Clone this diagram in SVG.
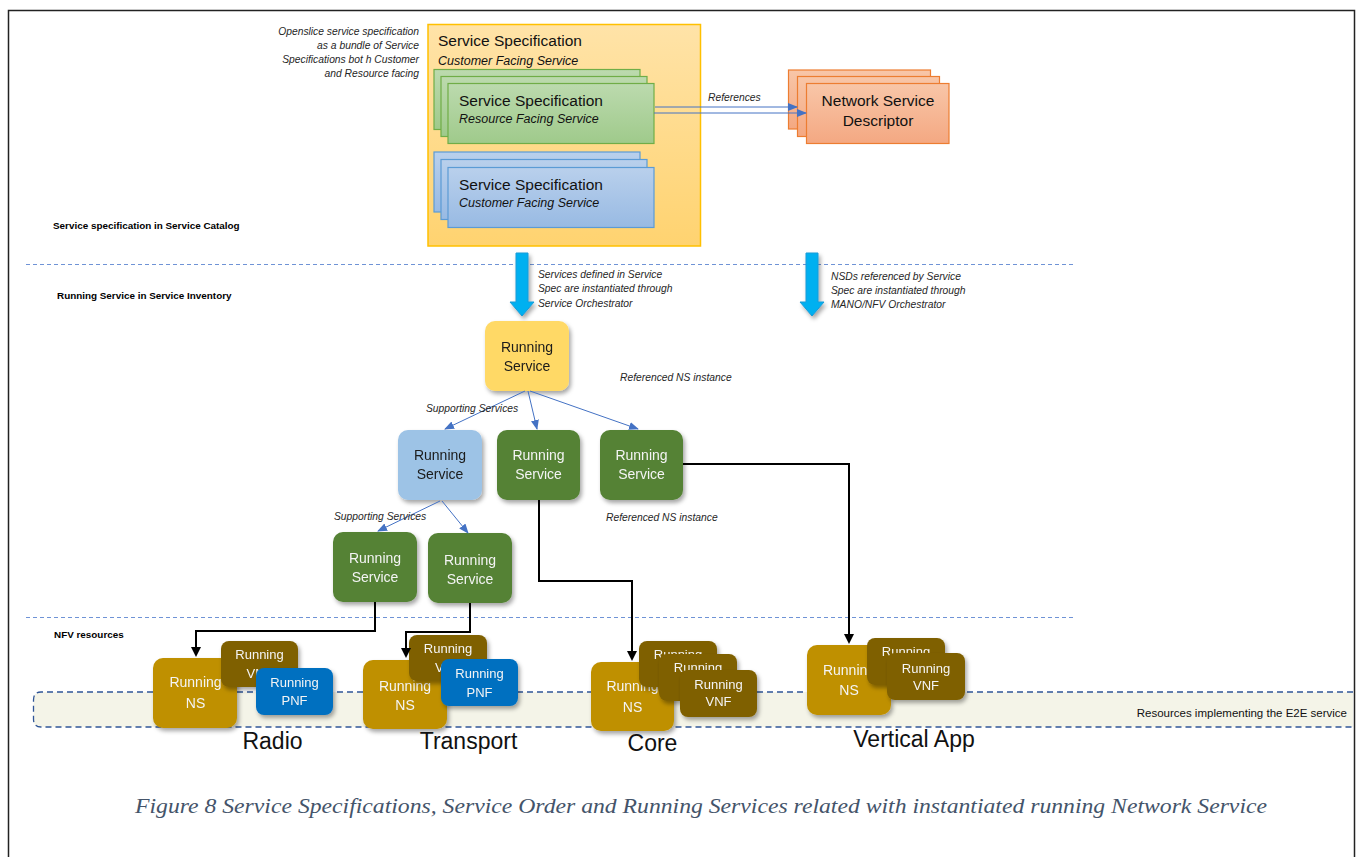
<svg xmlns="http://www.w3.org/2000/svg" width="1357" height="857" viewBox="0 0 1357 857">
<defs>
<style>
.sans { font-family: "Liberation Sans", Arial, sans-serif; }
.it { font-family: "Liberation Sans", Arial, sans-serif; font-style: italic; font-size: 10.3px; fill: #262626; }
.lbl { font-family: "Liberation Sans", Arial, sans-serif; font-weight: bold; font-size: 9.9px; fill: #000; }
.t15 { font-family: "Liberation Sans", Arial, sans-serif; font-size: 15.5px; fill: #111; }
.i12 { font-family: "Liberation Sans", Arial, sans-serif; font-style: italic; font-size: 12.5px; fill: #111; }
.rs { font-family: "Liberation Sans", Arial, sans-serif; font-size: 14px; text-anchor: middle; }
.rs13 { font-family: "Liberation Sans", Arial, sans-serif; font-size: 13px; text-anchor: middle; fill: #f4f4f4; }
.dk { fill: #1a1a1a; }
.wh { fill: #f4f4f4; }
.area { font-family: "Liberation Sans", Arial, sans-serif; font-size: 23px; text-anchor: middle; fill: #111; }
.cap { font-family: "Liberation Serif", "Times New Roman", serif; font-style: italic; font-size: 21px; fill: #44546A; }
.sep { stroke: #6F93D6; stroke-width: 1; stroke-dasharray: 4 3; fill: none; }
.blue { stroke: #4472C4; stroke-width: 1; fill: none; }
.blk { stroke: #000; stroke-width: 2; fill: none; }
.gcard { fill: url(#gGreen); stroke: #70AD47; stroke-width: 1.2; }
.bcard { fill: url(#gBlue); stroke: #5B9BD5; stroke-width: 1.2; }
.ocard { fill: url(#gOrange); stroke: #ED7D31; stroke-width: 1.2; }
.ns { fill: #BF9000; }
.vnf { fill: #7F6000; }
.pnf { fill: #0070C0; }
.rg { fill: #548235; }
.bigarrow { fill: #00B0F0; stroke: #1A9BD7; stroke-width: 1; }
</style>
<linearGradient id="gYellow" x1="0" y1="0" x2="0" y2="1">
<stop offset="0" stop-color="#FFE3A8"/><stop offset="1" stop-color="#FFD370"/>
</linearGradient>
<linearGradient id="gGreen" x1="0" y1="0" x2="0" y2="1">
<stop offset="0" stop-color="#BCDAAE"/><stop offset="1" stop-color="#9FCA8B"/>
</linearGradient>
<linearGradient id="gBlue" x1="0" y1="0" x2="0" y2="1">
<stop offset="0" stop-color="#B9D0EC"/><stop offset="1" stop-color="#98BAE3"/>
</linearGradient>
<linearGradient id="gOrange" x1="0" y1="0" x2="0" y2="1">
<stop offset="0" stop-color="#F8C6A8"/><stop offset="1" stop-color="#F4A882"/>
</linearGradient>
<filter id="sh" x="-20%" y="-20%" width="150%" height="150%">
<feDropShadow dx="2" dy="3" stdDeviation="2" flood-color="#000" flood-opacity="0.35"/>
</filter>
<marker id="mBlue" markerUnits="userSpaceOnUse" markerWidth="10" markerHeight="8" refX="9" refY="4" orient="auto">
<path d="M0,0 L10,4 L0,8 z" fill="#4472C4"/>
</marker>
<marker id="mBlk" markerUnits="userSpaceOnUse" markerWidth="10" markerHeight="10" refX="6" refY="5" orient="auto">
<path d="M0,0 L10,5 L0,10 z" fill="#000"/>
</marker>
</defs>

<rect x="0" y="0" width="1357" height="857" fill="#fff"/>
<rect x="8.5" y="10.5" width="1346" height="900" fill="none" stroke="#222" stroke-width="1.5"/>

<!-- E2E band -->
<g id="e2e-band">
<path d="M1353,692 H41 Q33.5,692 33.5,700 V719 Q33.5,727 41,727 H1353 Z" fill="#F4F4E8"/>
<path d="M1353,692 H41 Q33.5,692 33.5,700 V719 Q33.5,727 41,727 H1353" fill="none" stroke="#2F5597" stroke-width="1.3" stroke-dasharray="6 4"/>
<text class="sans" x="1347" y="717" text-anchor="end" font-size="11.5" fill="#111">Resources implementing the E2E service</text>
</g>

<!-- separators -->
<line class="sep" x1="26" y1="264.5" x2="1075" y2="264.5"/>
<line class="sep" x1="26" y1="617.5" x2="1075" y2="617.5"/>

<!-- section labels -->
<text class="lbl" x="53" y="229">Service specification in Service Catalog</text>
<text class="lbl" x="57" y="299">Running Service in Service Inventory</text>
<text class="lbl" x="54" y="638">NFV resources</text>

<!-- annotation -->
<g class="it" text-anchor="end">
<text x="419" y="35">Openslice service specification</text>
<text x="419" y="49">as a bundle of Service</text>
<text x="419" y="63">Specifications bot h Customer</text>
<text x="419" y="77">and Resource facing</text>
</g>

<g id="spec-bundle">
<rect x="428" y="24.5" width="272.5" height="221.5" fill="url(#gYellow)" stroke="#FFC000" stroke-width="1.5"/>
<text class="t15" x="438" y="46">Service Specification</text>
<text class="i12" x="438" y="65">Customer Facing Service</text>
</g>

<g id="spec-rfs">
<rect class="gcard" x="434" y="69.5" width="206" height="60"/>
<rect class="gcard" x="441" y="76.5" width="206" height="60"/>
<rect class="gcard" x="448" y="83.5" width="206" height="60"/>
<text class="t15" x="459" y="106">Service Specification</text>
<text class="i12" x="459" y="123">Resource Facing Service</text>
</g>

<g id="spec-cfs">
<rect class="bcard" x="434" y="152" width="206" height="60"/>
<rect class="bcard" x="441" y="159.5" width="206" height="60"/>
<rect class="bcard" x="448" y="167.5" width="206" height="60"/>
<text class="t15" x="459" y="190">Service Specification</text>
<text class="i12" x="459" y="207">Customer Facing Service</text>
</g>

<g id="nsd">
<rect class="ocard" x="788.5" y="70" width="142" height="59"/>
<rect class="ocard" x="797.5" y="76.5" width="142" height="60"/>
<rect class="ocard" x="806.5" y="83.5" width="142.5" height="60"/>
<text class="t15" x="878" y="106" text-anchor="middle">Network Service</text>
<text class="t15" x="878" y="126" text-anchor="middle">Descriptor</text>
</g>

<!-- big instantiation arrows -->
<g id="instantiate-arrows" filter="url(#sh)">
<polygon class="bigarrow" points="516,253 528,253 528,302 534,302 522,316 510,302 516,302"/>
<polygon class="bigarrow" points="806,253 818,253 818,302 824,302 812,316 800,302 806,302"/>
</g>
<g class="it">
<text x="538" y="278">Services defined in Service</text>
<text x="538" y="292">Spec are instantiated through</text>
<text x="538" y="307">Service Orchestrator</text>
<text x="831" y="280">NSDs referenced by Service</text>
<text x="831" y="294">Spec are instantiated through</text>
<text x="831" y="308">MANO/NFV Orchestrator</text>
</g>

<!-- running services -->
<g id="rs-top" filter="url(#sh)">
<rect x="485" y="321" width="84" height="70" rx="10" fill="#FFD966"/>
<text class="rs dk" x="527" y="352">Running</text>
<text class="rs dk" x="527" y="371">Service</text>
</g>
<g id="rs-blue" filter="url(#sh)">
<rect x="398" y="430" width="84" height="70" rx="10" fill="#9DC3E6"/>
<text class="rs dk" x="440" y="460">Running</text>
<text class="rs dk" x="440" y="479">Service</text>
</g>
<g id="rs-green-mid" filter="url(#sh)">
<rect class="rg" x="497" y="430" width="83" height="70" rx="10"/>
<text class="rs wh" x="538.5" y="460">Running</text>
<text class="rs wh" x="538.5" y="479">Service</text>
</g>
<g id="rs-green-right" filter="url(#sh)">
<rect class="rg" x="600" y="430" width="83" height="70" rx="10"/>
<text class="rs wh" x="641.5" y="460">Running</text>
<text class="rs wh" x="641.5" y="479">Service</text>
</g>
<g id="rs-radio" filter="url(#sh)">
<rect class="rg" x="333" y="532" width="84" height="70" rx="10"/>
<text class="rs wh" x="375" y="563">Running</text>
<text class="rs wh" x="375" y="582">Service</text>
</g>
<g id="rs-transport" filter="url(#sh)">
<rect class="rg" x="428" y="533" width="84" height="70" rx="10"/>
<text class="rs wh" x="470" y="565">Running</text>
<text class="rs wh" x="470" y="584">Service</text>
</g>

<!-- NFV resources: Radio -->
<g id="radio-ns" filter="url(#sh)">
<rect class="ns" x="153" y="658" width="84" height="70" rx="10"/>
<text class="rs wh" x="195.5" y="687">Running</text>
<text class="rs wh" x="195.5" y="708">NS</text>
</g>
<g id="radio-vnf" filter="url(#sh)">
<rect class="vnf" x="221" y="641" width="77" height="46" rx="8"/>
<text class="rs13" x="259.5" y="659">Running</text>
<text class="rs13" x="259.5" y="678">VNF</text>
</g>
<g id="radio-pnf" filter="url(#sh)">
<rect class="pnf" x="256" y="668" width="77" height="47" rx="8"/>
<text class="rs13" x="294.5" y="687">Running</text>
<text class="rs13" x="294.5" y="704.5">PNF</text>
</g>

<!-- Transport -->
<g id="transport-ns" filter="url(#sh)">
<rect class="ns" x="363" y="660" width="84" height="69" rx="10"/>
<text class="rs wh" x="405" y="691">Running</text>
<text class="rs wh" x="405" y="709.5">NS</text>
</g>
<g id="transport-vnf" filter="url(#sh)">
<rect class="vnf" x="409" y="635" width="78" height="46" rx="8"/>
<text class="rs13" x="448" y="653">Running</text>
<text class="rs13" x="448" y="672">VNF</text>
</g>
<g id="transport-pnf" filter="url(#sh)">
<rect class="pnf" x="441" y="659" width="77" height="47" rx="8"/>
<text class="rs13" x="479.5" y="678">Running</text>
<text class="rs13" x="479.5" y="697">PNF</text>
</g>

<!-- Core -->
<g id="core-ns" filter="url(#sh)">
<rect class="ns" x="591" y="662" width="83" height="69" rx="10"/>
<text class="rs wh" x="632.5" y="691">Running</text>
<text class="rs wh" x="632.5" y="712">NS</text>
</g>
<g id="core-vnf1" filter="url(#sh)">
<rect class="vnf" x="639" y="641" width="78" height="46" rx="8"/>
<text class="rs13" x="678" y="659">Running</text>
<text class="rs13" x="678" y="678">VNF</text>
</g>
<g id="core-vnf2" filter="url(#sh)">
<rect class="vnf" x="659" y="654" width="78" height="47" rx="8"/>
<text class="rs13" x="698" y="672">Running</text>
<text class="rs13" x="698" y="691">VNF</text>
</g>
<g id="core-vnf3" filter="url(#sh)">
<rect class="vnf" x="680" y="670" width="77" height="47" rx="8"/>
<text class="rs13" x="718.5" y="689">Running</text>
<text class="rs13" x="718.5" y="706">VNF</text>
</g>

<!-- Vertical App -->
<g id="vertical-ns" filter="url(#sh)">
<rect class="ns" x="807" y="645" width="84" height="70" rx="10"/>
<text class="rs wh" x="849" y="675">Running</text>
<text class="rs wh" x="849" y="695">NS</text>
</g>
<g id="vertical-vnf1" filter="url(#sh)">
<rect class="vnf" x="867" y="638" width="78" height="47" rx="8"/>
<text class="rs13" x="906" y="656">Running</text>
<text class="rs13" x="906" y="675">VNF</text>
</g>
<g id="vertical-vnf2" filter="url(#sh)">
<rect class="vnf" x="887" y="653" width="78" height="47" rx="8"/>
<text class="rs13" x="926" y="673">Running</text>
<text class="rs13" x="926" y="690">VNF</text>
</g>

<!-- connectors -->
<g id="connectors">
<line class="blue" x1="655" y1="107" x2="797" y2="107" marker-end="url(#mBlue)"/>
<line class="blue" x1="654" y1="113" x2="806" y2="113" marker-end="url(#mBlue)"/>
<line class="blue" x1="525" y1="391" x2="445" y2="429" marker-end="url(#mBlue)"/>
<line class="blue" x1="528" y1="391" x2="537" y2="429" marker-end="url(#mBlue)"/>
<line class="blue" x1="530" y1="391" x2="638" y2="429" marker-end="url(#mBlue)"/>
<line class="blue" x1="440" y1="501" x2="378" y2="531" marker-end="url(#mBlue)"/>
<line class="blue" x1="442" y1="501" x2="468" y2="533" marker-end="url(#mBlue)"/>
<path class="blk" d="M375,602 V631 H196 V653" marker-end="url(#mBlk)"/>
<path class="blk" d="M470,603 V632 H406 V654" marker-end="url(#mBlk)"/>
<path class="blk" d="M539,500 V581 H632 V657" marker-end="url(#mBlk)"/>
<path class="blk" d="M683,464 H849 V640" marker-end="url(#mBlk)"/>
</g>

<!-- connector labels -->
<g class="it">
<text x="708" y="101">References</text>
<text x="426" y="412">Supporting Services</text>
<text x="334" y="520">Supporting Services</text>
<text x="620" y="381">Referenced NS instance</text>
<text x="606" y="521">Referenced NS instance</text>
</g>

<!-- area labels -->
<text class="area" x="272.5" y="749">Radio</text>
<text class="area" x="468.5" y="749">Transport</text>
<text class="area" x="652.5" y="751">Core</text>
<text class="area" x="914" y="747">Vertical App</text>

<text class="cap" x="135" y="813" textLength="1132" lengthAdjust="spacingAndGlyphs">Figure 8 Service Specifications, Service Order and Running Services related with instantiated running Network Service</text>
</svg>
